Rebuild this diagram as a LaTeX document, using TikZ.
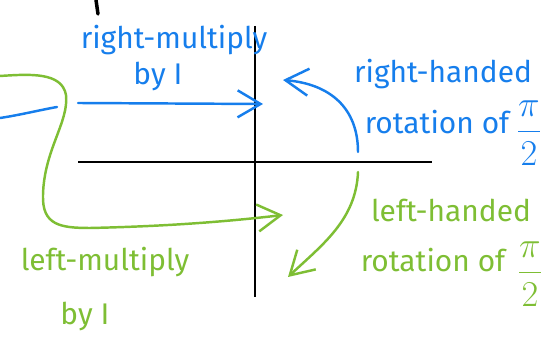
\documentclass[tikz,border=0pt]{standalone}
\usepackage{amsmath}
\usepackage{fontspec}
\setmainfont{Fira Sans}
\usetikzlibrary{arrows.meta,positioning}
\definecolor{rmblue}{RGB}{22,126,236}
\definecolor{lmgreen}{RGB}{126,190,52}
\tikzset{
  rmaxis/.style={line width=1.7pt,black},
  rmstroke/.style={line width=1.4pt,line cap=round,line join=round},
  rmedge/.style={rmstroke,-{Straight Barb[length=4.6mm,width=5.4mm,line width=1.4pt]}},
  rmtext/.style={font=\fontsize{17}{19}\selectfont,inner sep=1pt},
  rmfrac/.style={font=\fontsize{21}{24}\selectfont,inner sep=0pt}
}
\begin{document}
\begin{tikzpicture}[x=0.2mm,y=-0.2mm]
\useasboundingbox (0,0) rectangle (558,346);
% axes of the complex plane
\coordinate (ytop) at (255,26);
\coordinate (ybot) at (255,297);
\coordinate (xleft) at (78,162);
\coordinate (xright) at (432,162);
\draw[rmaxis] (ytop) -- (ybot);
\draw[rmaxis] (xleft) -- (xright);
\coordinate (tick0) at (96,0);
\coordinate (tick1) at (98,14);
\draw[line width=2pt,line cap=round] (tick0) -- (tick1);

% Top: right multiplication, blue
\node[rmtext,text=rmblue] (rmul1) at (174,40) {right-multiply};
\node[rmtext,text=rmblue] (rmul2) at (158,76) {by I};
\coordinate (rin0) at (0,118);
\coordinate (rin1) at (57,107);
\draw[rmstroke,rmblue] (rin0) .. controls (20,115) and (40,110) .. (rin1);
\coordinate (rstart) at (78,103);
\coordinate (rend) at (263,104);
\draw[rmedge,rmblue] (rstart) -- (rend);
\node[rmtext,text=rmblue] (rhand1) at (443,74) {right-handed};
\node[rmtext,text=rmblue] (rhand2) at (437,122) {rotation of};
\node[rmfrac,text=rmblue] (rfrac) at (529,133) {$\dfrac{\pi}{2}$};
\coordinate (rrot0) at (358,152);
\coordinate (rrot1) at (283,80);
\draw[rmedge,rmblue] (rrot0) .. controls (358,108) and (330,84) .. (rrot1);

% Bottom: left multiplication, green
\node[rmtext,text=lmgreen] (lmul1) at (105,262) {left-multiply};
\node[rmtext,text=lmgreen] (lmul2) at (85,316) {by I};
\coordinate (lstart) at (0,76);
\coordinate (lend) at (283,215);
\draw[rmedge,lmgreen] (lstart) .. controls (30,74) and (62,72) .. (66,95)
  .. controls (69,122) and (44,150) .. (43,195)
  .. controls (42,225) and (60,228) .. (90,228)
  .. controls (180,226) and (240,220) .. (lend);
\node[rmtext,text=lmgreen] (lhand1) at (451,210) {left-handed};
\node[rmtext,text=lmgreen] (lhand2) at (433,260) {rotation of};
\node[rmfrac,text=lmgreen] (lfrac) at (530,274) {$\dfrac{\pi}{2}$};
\coordinate (lrot0) at (358,172);
\coordinate (lrot1) at (288,277);
\draw[rmedge,lmgreen] (lrot0) .. controls (356,220) and (322,245) .. (lrot1);
\end{tikzpicture}
\end{document}
